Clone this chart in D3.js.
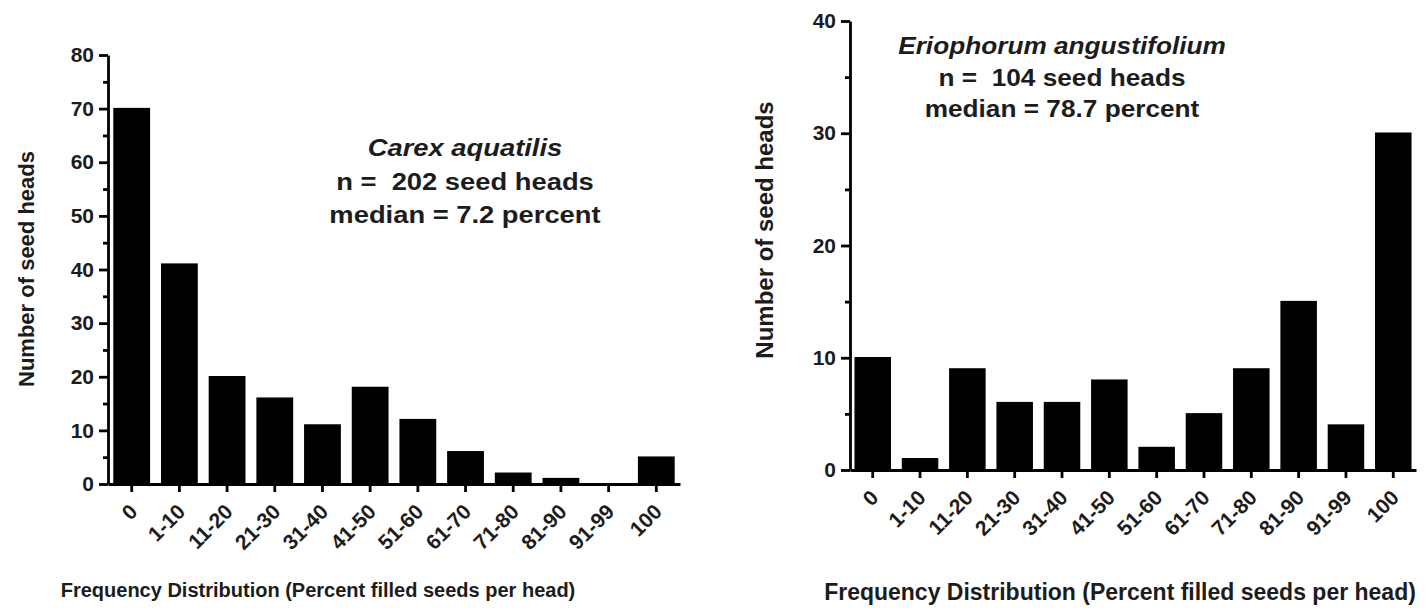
<!DOCTYPE html>
<html>
<head>
<meta charset="utf-8">
<script src="https://cdn.jsdelivr.net/npm/d3@7"></script>
<style>
body { margin: 0; background: #fff; }
svg { display: block; }
text { font-family: "Liberation Sans", Arial, Helvetica, sans-serif; font-weight: bold; fill: #1c1c1c; }
</style>
</head>
<body>
<svg id="chart" width="1427" height="608"></svg>
<script>
// bins of percent filled seeds per head
const bins = ["0", "1-10", "11-20", "21-30", "31-40", "41-50", "51-60", "61-70", "71-80", "81-90", "91-99", "100"];

const carexCounts = [70, 41, 20, 16, 11, 18, 12, 6, 2, 1, 0, 5];
const carexTicks = [0, 10, 20, 30, 40, 50, 60, 70, 80];
const carexMinor = [5, 15, 25, 35, 45, 55, 65, 75];
const carexNote = ["Carex aquatilis", "n =  202 seed heads", "median = 7.2 percent"];

const erioCounts = [10, 1, 9, 6, 6, 8, 2, 5, 9, 15, 4, 30];
const erioTicks = [0, 10, 20, 30, 40];
const erioMinor = [5, 15, 25, 35];
const erioNote = ["Eriophorum angustifolium", "n =  104 seed heads", "median = 78.7 percent"];

const xTitle = "Frequency Distribution (Percent filled seeds per head)";
const yTitle = "Number of seed heads";

const svg = d3.select('#chart');

function makeHist(counts, ticks, minor, note, p) {
	const g = svg.append('g');

	const x = d3.scaleBand()
		.domain(bins)
		.range([p.x0, p.x1])
		.paddingInner(0.26)
		.paddingOuter(p.outer);

	const y = d3.scaleLinear()
		.domain([0, ticks[ticks.length - 1]])
		.range([p.y0, p.yTop]);

	g.selectAll('.bar')
		.data(counts)
		.enter()
		.append('rect')
		.attr('class', 'bar')
		.attr('x', function(d, i) { return x(bins[i]); })
		.attr('y', function(d) { return y(d); })
		.attr('width', x.bandwidth())
		.attr('height', function(d) { return p.y0 - y(d); })
		.attr('fill', '#000')
		.attr('stroke', '#000')
		.attr('stroke-width', 1.5);

	// minor ticks first, the main axis on top
	g.append('g')
		.attr('transform', `translate(${p.x0},0)`)
		.call(d3.axisLeft(y).tickValues(minor).tickSize(5).tickFormat('').tickSizeOuter(0))
		.call(a => a.select('.domain').remove());

	const yAxis = g.append('g')
		.attr('transform', `translate(${p.x0},0)`)
		.call(d3.axisLeft(y).tickValues(ticks).tickSize(9).tickPadding(5).tickSizeOuter(0));
	yAxis.selectAll('text').style('font-size', p.tickFont + 'px').attr('font-family', null).attr('fill', null);

	const xAxis = g.append('g')
		.attr('transform', `translate(0,${p.y0})`)
		.call(d3.axisBottom(x).tickSize(8).tickSizeOuter(0));
	xAxis.selectAll('text')
		.attr('x', 0).attr('y', 0).attr('dy', 0)
		.attr('text-anchor', 'end')
		.attr('transform', 'translate(7,29) rotate(-45)')
		.style('font-size', p.tickFont + 'px')
		.attr('font-family', null).attr('fill', null);

	g.selectAll('.domain, .tick line')
		.attr('stroke', '#000')
		.attr('stroke-width', 2.8);

	g.append('text')
		.attr('transform', `translate(${p.yTitleX},${p.yTitleY}) rotate(-90)`)
		.attr('text-anchor', 'middle')
		.style('font-size', p.yTitleFont + 'px')
		.text(yTitle);

	g.append('text')
		.attr('x', p.xTitleX)
		.attr('y', p.xTitleY)
		.attr('text-anchor', 'middle')
		.style('font-size', p.xTitleFont + 'px')
		.text(xTitle);

	g.selectAll('.note')
		.data(note)
		.enter()
		.append('text')
		.attr('class', 'note')
		.attr('text-anchor', 'middle')
		.attr('transform', function(d, i) {
			return `translate(${p.noteX},${p.noteY + i * p.noteGap}) scale(1.14,1)`;
		})
		.style('font-size', p.noteFont + 'px')
		.style('font-style', function(d, i) { return i == 0 ? 'italic' : 'normal'; })
		.style('white-space', 'pre')
		.text(function(d) { return d; });
}

makeHist(carexCounts, carexTicks, carexMinor, carexNote, {
	x0: 108, x1: 680, outer: 0.127, y0: 484, yTop: 55,
	tickFont: 21, yTitleX: 34, yTitleY: 269, yTitleFont: 22,
	xTitleX: 318, xTitleY: 597, xTitleFont: 20,
	noteX: 465, noteY: 156, noteGap: 33.5, noteFont: 24
});

makeHist(erioCounts, erioTicks, erioMinor, erioNote, {
	x0: 850, x1: 1416, outer: 0.11, y0: 470, yTop: 21,
	tickFont: 21, yTitleX: 773, yTitleY: 230, yTitleFont: 24,
	xTitleX: 1120, xTitleY: 600, xTitleFont: 23,
	noteX: 1062, noteY: 54, noteGap: 31.5, noteFont: 23
});
</script>
</body>
</html>
